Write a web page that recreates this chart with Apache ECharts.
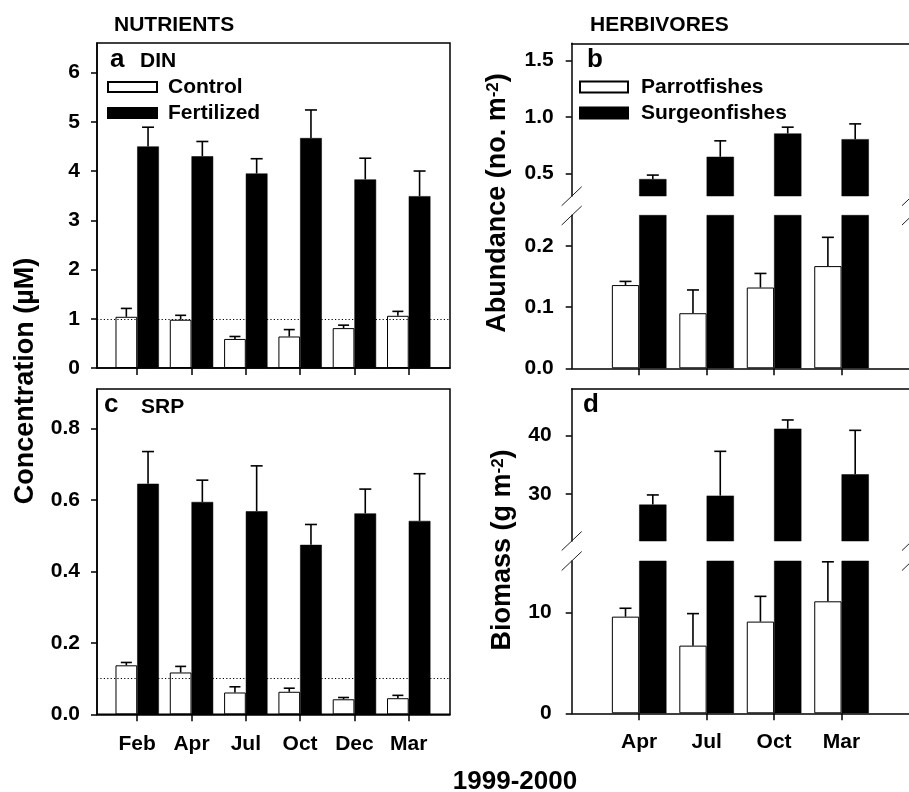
<!DOCTYPE html>
<html><head><meta charset="utf-8">
<script src="https://cdn.jsdelivr.net/npm/echarts@6/dist/echarts.min.js"></script>
<style>html,body{margin:0;padding:0;background:#fff}#c{width:909px;height:792px}</style>
</head><body><div id="c"></div>
<script>
// ---------- data ----------
const nutrientMonths = ['Feb','Apr','Jul','Oct','Dec','Mar'];
const dinControl     = [1.04, 0.98, 0.59, 0.64, 0.81, 1.06];
const dinControlErr  = [0.17, 0.09, 0.05, 0.14, 0.06, 0.09];
const dinFert        = [4.50, 4.30, 3.95, 4.67, 3.83, 3.49];
const dinFertErr     = [0.39, 0.30, 0.30, 0.57, 0.43, 0.51];
const srpControl     = [0.137, 0.117, 0.061, 0.063, 0.042, 0.045];
const srpControlErr  = [0.008, 0.017, 0.016, 0.010, 0.005, 0.008];
const srpFert        = [0.645, 0.594, 0.568, 0.474, 0.562, 0.541];
const srpFertErr     = [0.090, 0.061, 0.127, 0.057, 0.068, 0.132];
const dinThreshold = 1.0;
const srpThreshold = 0.1;

const herbMonths     = ['Apr','Jul','Oct','Mar'];
const abParrot       = [0.136, 0.090, 0.132, 0.167];
const abParrotErr    = [0.006, 0.038, 0.023, 0.047];
const abSurgeon      = [0.450, 0.647, 0.853, 0.803];
const abSurgeonErr   = [0.035, 0.141, 0.056, 0.135];
const bmParrot       = [9.57, 6.70, 9.08, 11.09];
const bmParrotErr    = [0.83, 3.17, 2.50, 3.91];
const bmSurgeon      = [28.17, 29.71, 41.20, 33.37];
const bmSurgeonErr   = [1.66, 7.60, 1.49, 7.54];

const dinTicks = [0, 1, 2, 3, 4, 5, 6];
const srpTicks = [0, 0.2, 0.4, 0.6, 0.8];
const abUpperTicks = [0.5, 1.0, 1.5];
const abLowerTicks = [0, 0.1, 0.2];
const bmUpperTicks = [30, 40];
const bmLowerTicks = [0, 10];

// ---------- layout / style ----------
const FONT = '"Liberation Sans", Arial, Helvetica, sans-serif';
const BLACK = '#000';
const LW = 1.5;
const nIdx = nutrientMonths.map((m, i) => i);
const hIdx = herbMonths.map((m, i) => i);

const L1 = 97, W1 = 353;           // left column
const L2 = 571.7, W2 = 340.3;      // right column (right border off-canvas)
const BW1 = 21.7, BW2 = 27.3;

const grids = [
  {left: L1, top: 43, width: W1, height: 325, show: true, borderColor: BLACK, borderWidth: LW},      // a
  {left: L1, top: 389, width: W1, height: 325.3, show: true, borderColor: BLACK, borderWidth: LW},   // c
  {left: L2, top: 43.3, width: W2, height: 152.7},  // b upper
  {left: L2, top: 215.3, width: W2, height: 153},   // b lower
  {left: L2, top: 389, width: W2, height: 152},     // d upper
  {left: L2, top: 561, width: W2, height: 152.3}    // d lower
];

const lineSt = {color: BLACK, width: LW};
const labelSt = {fontSize: 21, fontWeight: 'bold', color: BLACK, fontFamily: FONT};

function xNut(gi, showLabels) {
  return {gridIndex: gi, type: 'value', min: -0.74, max: 5.76,
    axisLine: {show: true, onZero: false, lineStyle: lineSt},
    axisTick: {show: true, customValues: nIdx, length: 7, lineStyle: lineSt},
    axisLabel: Object.assign({show: showLabels, customValues: nIdx, margin: 19,
      formatter: v => nutrientMonths[Math.round(v)] || ''}, labelSt),
    splitLine: {show: false}};
}
function xHerbTop(gi) {
  return {gridIndex: gi, type: 'value', min: -1, max: 4, position: 'top',
    axisLine: {show: true, onZero: false, lineStyle: lineSt},
    axisTick: {show: false}, axisLabel: {show: false}, splitLine: {show: false}};
}
function xHerbBottom(gi, showLabels) {
  return {gridIndex: gi, type: 'value', min: -1, max: 4, position: 'bottom',
    axisLine: {show: true, onZero: false, lineStyle: lineSt},
    axisTick: {show: true, customValues: hIdx, length: 7, lineStyle: lineSt},
    axisLabel: Object.assign({show: showLabels, customValues: hIdx, margin: 18,
      formatter: v => herbMonths[Math.round(v)] || ''}, labelSt),
    splitLine: {show: false}};
}
function yAx(gi, min, max, ticks, margin, fmt) {
  return {gridIndex: gi, type: 'value', min: min, max: max,
    axisLine: {show: true, onZero: false, lineStyle: lineSt},
    axisTick: {show: true, customValues: ticks, length: 6, lineStyle: lineSt},
    axisLabel: Object.assign({customValues: ticks, margin: margin, formatter: fmt}, labelSt),
    splitLine: {show: false}};
}
const f0 = v => String(Math.round(v));
const f1 = v => v.toFixed(1);

function bar(name, gi, vals, white, bw) {
  return {type: 'bar', name: name, xAxisIndex: gi, yAxisIndex: gi,
    data: vals.map((v, i) => [i, v]), barWidth: bw, barGap: '0%', clip: true, z: 3,
    itemStyle: white ? {color: '#fff', borderColor: BLACK, borderWidth: 1} : {color: BLACK, borderColor: BLACK, borderWidth: 0.5},
    emphasis: {disabled: true}, animation: false};
}
function err(gi, vals, errs, offset, cap) {
  return {type: 'custom', xAxisIndex: gi, yAxisIndex: gi, z: 4, silent: true,
    data: vals.map((v, i) => [i, v, errs[i]]),
    encode: {x: 0, y: 1},
    renderItem: function (params, api) {
      const x = api.value(0), v = api.value(1), e = api.value(2);
      const p0 = api.coord([x, v]);
      const p1 = api.coord([x, v + e]);
      const cx = p0[0] + offset;
      const st = {stroke: BLACK, lineWidth: 1.6};
      return {type: 'group', children: [
        {type: 'line', shape: {x1: cx, y1: p0[1], x2: cx, y2: p1[1]}, style: st},
        {type: 'line', shape: {x1: cx - cap / 2, y1: p1[1], x2: cx + cap / 2, y2: p1[1]}, style: st}
      ]};
    }, animation: false};
}
function refLine(gi, val) {
  return {type: 'line', xAxisIndex: gi, yAxisIndex: gi, data: [], z: 2, silent: true,
    markLine: {silent: true, symbol: 'none', animation: false, label: {show: false},
      lineStyle: {color: BLACK, type: [1.2, 2.2], width: 1.2},
      data: [{yAxis: val}]}};
}

const series = [
  refLine(0, dinThreshold),
  bar('Control', 0, dinControl, true, BW1),
  bar('Fertilized', 0, dinFert, false, BW1),
  err(0, dinControl, dinControlErr, -BW1 / 2, 11),
  err(0, dinFert, dinFertErr, BW1 / 2, 12),

  refLine(1, srpThreshold),
  bar('Control', 1, srpControl, true, BW1),
  bar('Fertilized', 1, srpFert, false, BW1),
  err(1, srpControl, srpControlErr, -BW1 / 2, 11),
  err(1, srpFert, srpFertErr, BW1 / 2, 12),

  bar('Parrotfishes', 2, abParrot, true, BW2),
  bar('Surgeonfishes', 2, abSurgeon, false, BW2),
  err(2, abSurgeon, abSurgeonErr, BW2 / 2, 12),
  bar('Parrotfishes', 3, abParrot, true, BW2),
  bar('Surgeonfishes', 3, abSurgeon, false, BW2),
  err(3, abParrot, abParrotErr, -BW2 / 2, 12),

  bar('Parrotfishes', 4, bmParrot, true, BW2),
  bar('Surgeonfishes', 4, bmSurgeon, false, BW2),
  err(4, bmSurgeon, bmSurgeonErr, BW2 / 2, 12),
  bar('Parrotfishes', 5, bmParrot, true, BW2),
  bar('Surgeonfishes', 5, bmSurgeon, false, BW2),
  err(5, bmParrot, bmParrotErr, -BW2 / 2, 12)
];

function txt(x, y, s, size, extra) {
  return Object.assign({type: 'text', x: x, y: y, silent: true, z: 10,
    style: {text: s, font: 'bold ' + size + 'px ' + FONT, fill: BLACK, align: 'left', verticalAlign: 'middle'}}, extra || {});
}
function rtxt(x, y, s, rich) {
  return {type: 'text', x: x, y: y, rotation: Math.PI / 2, silent: true, z: 10,
    style: {text: s, font: 'bold 27px ' + FONT, fill: BLACK, align: 'center', verticalAlign: 'middle',
      rich: rich || {}}};
}
const supRich = {s: {fontSize: 17, fontWeight: 'bold', fontFamily: FONT, fill: BLACK, verticalAlign: 'top', lineHeight: 17}};
function slash(x, y) {
  return {type: 'line', silent: true, z: 10,
    shape: {x1: x - 10, y1: y + 9.5, x2: x + 10, y2: y - 9.5},
    style: {stroke: '#222', lineWidth: 1}};
}
const R2 = L2 + W2;

const graphic = [
  txt(114, 25, 'NUTRIENTS', 21),
  txt(590, 25, 'HERBIVORES', 21),
  txt(110, 59.5, 'a', 26),
  txt(140, 61, 'DIN', 21),
  txt(587, 59.5, 'b', 26),
  txt(104, 404.5, 'c', 26),
  txt(141, 407, 'SRP', 21),
  txt(583, 404.5, 'd', 26),
  {type: 'text', x: 515, y: 782, silent: true, z: 10,
    style: {text: '1999-2000', font: 'bold 26px ' + FONT, fill: BLACK, align: 'center', verticalAlign: 'middle'}},
  rtxt(26, 381, 'Concentration (\u00B5M)'),
  rtxt(498, 203, 'Abundance (no. m{s|-2})', supRich),
  rtxt(503, 550, 'Biomass (g m{s|-2})', supRich),
  slash(L2, 196.2), slash(L2, 215.5), slash(R2, 196.2), slash(R2, 215.5),
  slash(L2, 541), slash(L2, 561), slash(R2, 541), slash(R2, 561)
];

const legendText = {fontSize: 21, fontWeight: 'bold', color: BLACK, fontFamily: FONT, lineHeight: 22};

const option = {
  animation: false,
  backgroundColor: '#fff',
  grid: grids,
  xAxis: [xNut(0, false), xNut(1, true), xHerbTop(2), xHerbBottom(3, false), xHerbTop(4), xHerbBottom(5, true)],
  yAxis: [
    yAx(0, 0, 6.6, dinTicks, 17, f0),
    yAx(1, 0, 0.91, srpTicks, 17, f1),
    yAx(2, 0.3, 1.651, abUpperTicks, 18, f1),
    yAx(3, 0, 0.25, abLowerTicks, 18, f1),
    yAx(4, 21.93, 48, bmUpperTicks, 20, f0),
    yAx(5, 0, 15.08, bmLowerTicks, 20, f0)
  ],
  legend: [
    {left: 107, top: 76, padding: 0, orient: 'vertical', icon: 'rect', itemWidth: 49, itemHeight: 10, itemGap: 4,
      selectedMode: false, data: ['Control', 'Fertilized'],
      textStyle: Object.assign({padding: [0, 0, 0, 6]}, legendText)},
    {left: 579, top: 76, padding: 0, orient: 'vertical', icon: 'rect', itemWidth: 48, itemHeight: 11, itemGap: 4,
      selectedMode: false, data: ['Parrotfishes', 'Surgeonfishes'],
      textStyle: Object.assign({padding: [0, 0, 0, 8]}, legendText)}
  ],
  series: series,
  graphic: graphic
};

const chart = echarts.init(document.getElementById('c'), null, {renderer: 'canvas'});
chart.setOption(option);
</script>
</body></html>
